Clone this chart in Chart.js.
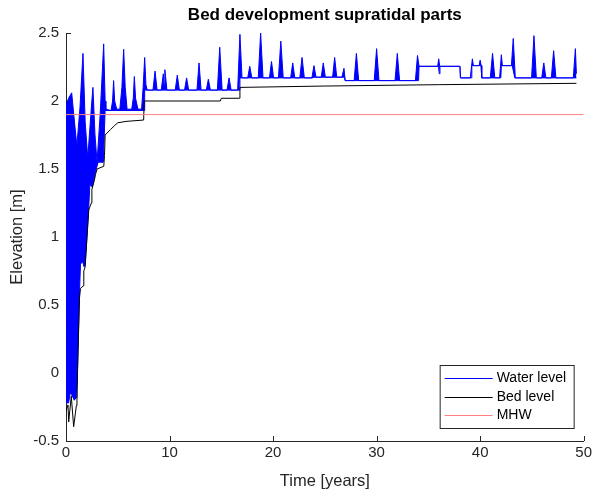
<!DOCTYPE html>
<html>
<head>
<meta charset="utf-8">
<title>Bed development supratidal parts</title>
<script src="https://cdn.jsdelivr.net/npm/chart.js@4.4.1/dist/chart.umd.min.js"></script>
<style>
  html, body { margin: 0; padding: 0; background: #fff; }
  #wrap { width: 595px; height: 493px; }
</style>
</head>
<body>
<div id="wrap"><canvas id="chart" width="595" height="493"></canvas></div>
<script>
// Values. Time in years, elevations in m.

// Water level: upper envelope of the tidal signal (spring-tide spikes)...
const tHigh = [
  0, 0.25, 0.55, 0.75, 1.05, 1.35, 1.64, 1.85, 2.1, 2.4, 2.6, 2.8, 3.0, 3.3, 3.64, 3.78, 3.85,
  4.35, 4.5, 4.6, 4.7, 4.9, 5.2, 5.4, 5.57, 5.72, 5.9, 6.35, 6.5, 6.6, 6.72, 6.95, 7.3, 7.45, 7.6, 7.72, 7.85,
  8.4, 8.6, 8.8, 9.2, 9.4, 9.47, 9.55, 9.75, 10.55, 10.75, 10.95, 11.45, 11.65, 11.85, 12.65, 12.85, 13.05,
  13.55, 13.75, 13.95, 14.62, 14.85, 15.08, 15.55, 15.75, 15.95, 16.58, 16.8, 17.0,
  17.55, 17.75, 17.95, 18.57, 18.8, 19.03, 19.65, 19.85, 20.05, 20.52, 20.75, 20.98, 21.7, 21.9, 22.1,
  22.58, 22.8, 23.02, 23.75, 23.95, 24.15, 24.65, 24.85, 25.05, 25.75, 25.95, 26.15, 26.65, 26.85, 26.97,
  27.83, 28.05, 28.27, 29.77, 30.0, 30.23, 31.78, 32.0, 32.22, 33.75, 33.95, 34.1, 35.9, 36.0, 36.1, 38.05, 38.1,
  39.05, 39.25, 39.35, 39.9, 40.0, 40.1, 40.15, 40.98, 41.2, 41.42, 41.88, 42.05, 42.15, 43.02, 43.2, 43.4,
  44.97, 45.2, 45.43, 45.95, 46.15, 46.35, 46.88, 47.1, 47.32, 49.0, 49.2, 49.3
];
const wlHigh = [
  1.97, 2.02, 2.06, 1.9, 1.67, 1.95, 2.35, 1.85, 1.58, 1.9, 2.1, 1.75, 1.55, 1.9, 2.42, 2.0, 1.94,
  1.93, 2.0, 2.15, 2.0, 1.94, 1.94, 2.1, 2.38, 2.1, 1.94, 1.94, 2.02, 2.18, 2.02, 1.94, 1.94, 2.1, 2.32, 2.12, 2.08,
  2.08, 2.22, 2.08, 2.08, 2.2, 2.12, 2.23, 2.08, 2.08, 2.19, 2.08, 2.08, 2.17, 2.08, 2.08, 2.28, 2.08,
  2.08, 2.16, 2.08, 2.08, 2.395, 2.08, 2.08, 2.17, 2.08, 2.08, 2.49, 2.17,
  2.17, 2.255, 2.17, 2.17, 2.5, 2.17, 2.17, 2.29, 2.17, 2.17, 2.44, 2.17, 2.17, 2.28, 2.17,
  2.17, 2.32, 2.17, 2.17, 2.26, 2.175, 2.175, 2.28, 2.175, 2.175, 2.32, 2.175, 2.175, 2.24, 2.15,
  2.15, 2.35, 2.15, 2.15, 2.385, 2.15, 2.15, 2.35, 2.15, 2.15, 2.335, 2.255, 2.255, 2.31, 2.255, 2.255, 2.17,
  2.17, 2.31, 2.26, 2.26, 2.30, 2.26, 2.17, 2.17, 2.35, 2.17, 2.17, 2.34, 2.26, 2.26, 2.46, 2.17,
  2.17, 2.48, 2.17, 2.17, 2.28, 2.17, 2.17, 2.37, 2.17, 2.17, 2.385, 2.2
];

// ...and its lower envelope (low water / dry-bed level).
const tLow = [
  0, 0.25, 0.4, 0.55, 0.8, 1.0, 1.06, 1.3, 1.4, 1.6, 1.75, 1.85, 2.2, 2.3, 2.55, 2.85, 3.1, 3.6, 3.78,
  7.55, 7.6, 16.75, 16.8, 23.85, 23.9, 26.9, 26.95, 34.05, 34.1, 35.98, 36.05, 36.12, 38.05, 38.1,
  39.15, 39.2, 40.1, 40.15, 42.0, 42.05, 43.1, 43.35, 49.3
];
const wlLow = [
  -0.22, -0.22, -0.15, -0.16, -0.2, -0.18, -0.12, 0.58, 0.8, 0.82, 0.78, 0.8, 1.22, 1.38, 1.37, 1.48, 1.55, 1.55, 1.93,
  1.93, 2.08, 2.08, 2.17, 2.17, 2.175, 2.175, 2.15, 2.15, 2.255, 2.255, 2.2, 2.255, 2.255, 2.17,
  2.17, 2.26, 2.26, 2.17, 2.17, 2.26, 2.26, 2.17, 2.17
];

// Bed level.
const tBed = [
  0, 0.19, 0.26, 0.51, 0.74, 0.9, 1.0, 1.06, 1.3, 1.4, 1.65, 1.72, 1.85, 2.2, 2.3, 2.45, 2.5, 2.75, 2.85, 3.0,
  3.65, 3.72, 3.78, 4.3, 4.7, 5.0, 5.8, 7.5, 7.55, 14.9, 15.0, 16.75, 16.8, 25, 36, 49.3
];
const bed = [
  -0.28, -0.235, -0.36, -0.17, -0.395, -0.3, -0.24, -0.15, 0.55, 0.62, 0.64, 0.75, 0.78, 1.2, 1.22, 1.25, 1.35, 1.42, 1.46, 1.5,
  1.52, 1.6, 1.75, 1.79, 1.82, 1.84, 1.85, 1.86, 2.0, 2.0, 2.02, 2.02, 2.1, 2.11, 2.12, 2.13
];

// Mean high water.
const tMhw = [0, 50];
const mhw = [1.9, 1.9];

const xTicks = [0, 10, 20, 30, 40, 50];
const yTicks = [-0.5, 0, 0.5, 1, 1.5, 2, 2.5];

const BLUE = "#0000ff";
const AXIS = "#262626";
const FONT = '"Liberation Sans", Arial, Helvetica, sans-serif';

const pts = (xs, ys) => xs.map((x, i) => ({ x, y: ys[i] }));

// MATLAB-style tick marks pointing into the axes, drawn under the data.
const inwardTicks = {
  id: "inwardTicks",
  beforeDatasetsDraw(chart) {
    const { ctx, chartArea: a, scales } = chart;
    ctx.save();
    ctx.strokeStyle = AXIS;
    ctx.lineWidth = 1;
    ctx.beginPath();
    xTicks.forEach((v) => {
      const px = Math.round(scales.x.getPixelForValue(v)) + 0.5;
      ctx.moveTo(px, a.bottom);
      ctx.lineTo(px, a.bottom - 5);
    });
    yTicks.forEach((v) => {
      const py = Math.round(scales.y.getPixelForValue(v)) + 0.5;
      ctx.moveTo(a.left, py);
      ctx.lineTo(a.left + 5, py);
    });
    ctx.stroke();
    ctx.restore();
  },
};

// Boxed legend in the lower-right corner of the axes (like MATLAB's 'southeast').
const boxLegend = {
  id: "boxLegend",
  afterDraw(chart) {
    const { ctx, chartArea: a } = chart;
    const items = chart.data.datasets.filter((d) => !d.label.startsWith("_"));
    const w = 134, h = 63;
    const x0 = a.right - 10 - w, y0 = a.bottom - 13 - h;
    ctx.save();
    ctx.fillStyle = "#fff";
    ctx.fillRect(x0, y0, w, h);
    ctx.strokeStyle = AXIS;
    ctx.lineWidth = 1;
    ctx.strokeRect(x0 + 0.5, y0 + 0.5, w, h);
    ctx.font = "14px " + FONT;
    ctx.textBaseline = "middle";
    items.forEach((d, i) => {
      const yy = Math.round(y0 + 13 + i * 18.5) + 0.5;
      ctx.strokeStyle = d.borderColor;
      ctx.beginPath();
      ctx.moveTo(x0 + 5, yy);
      ctx.lineTo(x0 + 53, yy);
      ctx.stroke();
      ctx.fillStyle = "#000";
      ctx.fillText(d.label, x0 + 57, yy);
    });
    ctx.restore();
  },
};

Chart.defaults.font.family = FONT;
Chart.defaults.color = AXIS;

new Chart(document.getElementById("chart"), {
  type: "line",
  data: {
    datasets: [
      // Internal lower envelope: the band between it and the upper one is the blue tide fill.
      { label: "_wlLow", data: pts(tLow, wlLow), borderColor: BLUE, borderWidth: 1, pointRadius: 0, fill: false, order: 3 },
      {
        label: "Water level",
        data: pts(tHigh, wlHigh),
        borderColor: BLUE,
        backgroundColor: BLUE,
        borderWidth: 1,
        pointRadius: 0,
        fill: "-1",
        order: 3,
      },
      { label: "Bed level", data: pts(tBed, bed), borderColor: "#000000", borderWidth: 1, pointRadius: 0, fill: false, order: 2 },
      { label: "MHW", data: pts(tMhw, mhw), borderColor: "#ff8080", borderWidth: 1, pointRadius: 0, fill: false, order: 1 },
    ],
  },
  options: {
    responsive: false,
    animation: false,
    devicePixelRatio: 1,
    events: [],
    layout: { padding: { left: 0, right: 11, top: 0, bottom: 0 } },
    elements: { line: { tension: 0 } },
    scales: {
      x: {
        type: "linear",
        min: 0,
        max: 50,
        afterFit: (s) => { s.height = 52; },
        afterBuildTicks: (s) => { s.ticks = xTicks.map((v) => ({ value: v })); },
        ticks: { font: { size: 15 }, color: AXIS, padding: 3, maxRotation: 0, callback: (v) => String(v) },
        grid: { display: false, drawTicks: false },
        border: { display: true, color: AXIS, width: 1 },
        title: { display: true, text: "Time [years]", font: { size: 16.5 }, color: AXIS, padding: { top: 2, bottom: 2 } },
      },
      y: {
        min: -0.5,
        max: 2.5,
        afterFit: (s) => { s.width = 66; },
        afterBuildTicks: (s) => { s.ticks = yTicks.map((v) => ({ value: v })); },
        ticks: { font: { size: 15 }, color: AXIS, padding: 7, callback: (v) => String(v) },
        grid: { display: false, drawTicks: false },
        border: { display: true, color: AXIS, width: 1 },
        title: { display: true, text: "Elevation [m]", font: { size: 16.5 }, color: AXIS, padding: { top: 8, bottom: 8 } },
      },
    },
    plugins: {
      legend: { display: false },
      tooltip: { enabled: false },
      title: {
        display: true,
        text: "Bed development supratidal parts",
        fullSize: false,
        color: "#000",
        font: { size: 17, weight: "bold" },
        padding: { top: 5, bottom: 7.6 },
      },
    },
  },
  plugins: [inwardTicks, boxLegend],
});
</script>
</body>
</html>
